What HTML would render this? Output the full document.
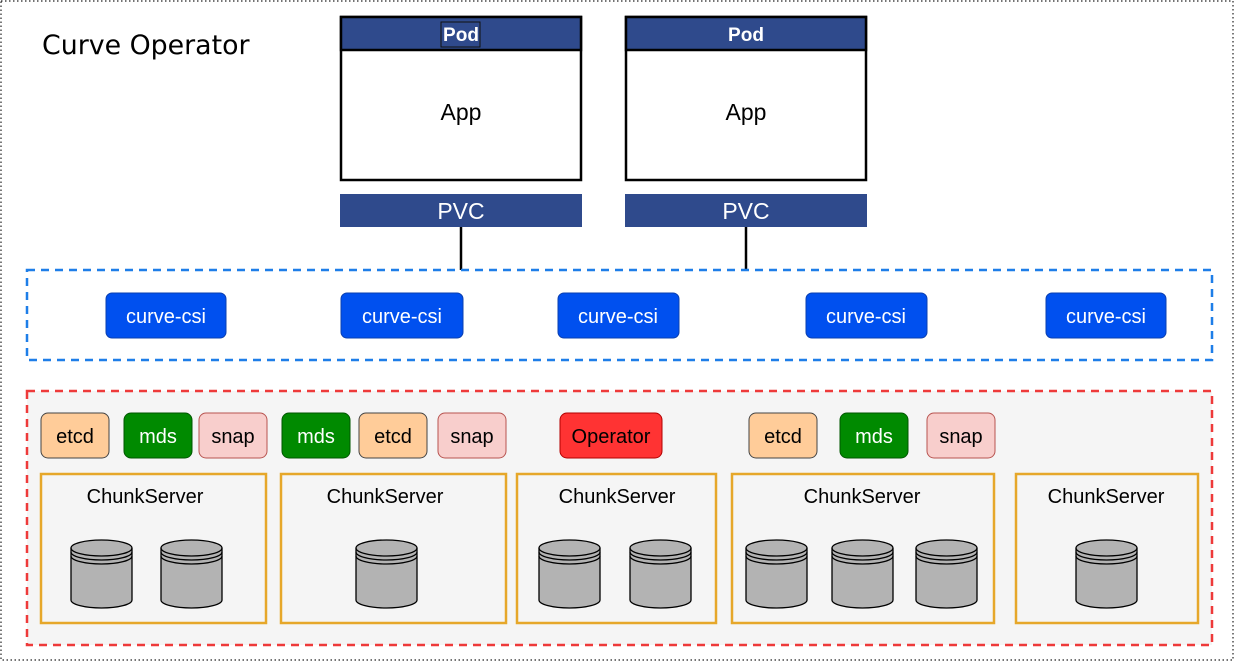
<!DOCTYPE html>
<html><head><meta charset="utf-8"><style>
html,body{margin:0;padding:0;background:#fff;}
svg{display:block;font-family:"Liberation Sans",Helvetica,Arial,sans-serif;}
</style></head><body>
<svg width="1235" height="662" viewBox="0 0 1235 662" xmlns="http://www.w3.org/2000/svg">
<defs>
<g id="cyl">
<path d="M0,8 A30.5,8 0 0 1 61,8 L61,60 A30.5,8 0 0 1 0,60 Z" fill="#b3b3b3" stroke="#000" stroke-width="1.3"/>
<path d="M0,8 A30.5,8 0 0 0 61,8 M0,12 A30.5,8 0 0 0 61,12 M0,16 A30.5,8 0 0 0 61,16" fill="none" stroke="#000" stroke-width="1.3"/>
</g>
</defs>
<rect x="1" y="1" width="1232" height="659" fill="#fff" stroke="#222" stroke-width="1.2" stroke-dasharray="1.5,2.5"/>
<text x="42" y="54" font-size="26.8" fill="#000" font-family="DejaVu Sans, sans-serif">Curve Operator</text>

<g>
<rect x="341" y="17" width="240" height="163" fill="#fff" stroke="#000" stroke-width="2.5"/>
<rect x="341" y="17" width="240" height="33" fill="#2f4a8c" stroke="#000" stroke-width="2.5"/>
<rect x="441" y="22" width="39" height="25" fill="#2f4a8c" stroke="#111" stroke-width="1"/>
<text x="461" y="41" font-size="19" font-weight="bold" fill="#fff" text-anchor="middle">Pod</text>
<text x="461" y="120" font-size="23" text-anchor="middle">App</text>
<rect x="340" y="194" width="242" height="33" fill="#2f4a8c"/>
<text x="461" y="219" font-size="23" fill="#fff" text-anchor="middle">PVC</text>
<line x1="461" y1="227" x2="461" y2="270" stroke="#000" stroke-width="2.5"/>
</g>
<g>
<rect x="626" y="17" width="240" height="163" fill="#fff" stroke="#000" stroke-width="2.5"/>
<rect x="626" y="17" width="240" height="33" fill="#2f4a8c" stroke="#000" stroke-width="2.5"/>
<text x="746" y="41" font-size="19" font-weight="bold" fill="#fff" text-anchor="middle">Pod</text>
<text x="746" y="120" font-size="23" text-anchor="middle">App</text>
<rect x="625" y="194" width="242" height="33" fill="#2f4a8c"/>
<text x="746" y="219" font-size="23" fill="#fff" text-anchor="middle">PVC</text>
<line x1="746" y1="227" x2="746" y2="270" stroke="#000" stroke-width="2.5"/>
</g>

<rect x="27" y="270" width="1185" height="90" fill="#fff" stroke="#1e7ee8" stroke-width="2.5" stroke-dasharray="8,6"/>
<g font-size="20" fill="#fff" text-anchor="middle">
<rect x="106" y="293" width="120" height="45" rx="6" fill="#0050ef" stroke="#0a3fb0"/><text x="166" y="323">curve-csi</text>
<rect x="341" y="293" width="122" height="45" rx="6" fill="#0050ef" stroke="#0a3fb0"/><text x="402" y="323">curve-csi</text>
<rect x="558" y="293" width="121" height="45" rx="6" fill="#0050ef" stroke="#0a3fb0"/><text x="618" y="323">curve-csi</text>
<rect x="806" y="293" width="121" height="45" rx="6" fill="#0050ef" stroke="#0a3fb0"/><text x="866" y="323">curve-csi</text>
<rect x="1046" y="293" width="120" height="45" rx="6" fill="#0050ef" stroke="#0a3fb0"/><text x="1106" y="323">curve-csi</text>
</g>

<rect x="27" y="391" width="1185" height="254" fill="#f5f5f5" stroke="#ee3a3a" stroke-width="2.5" stroke-dasharray="8,6"/>
<g font-size="20" text-anchor="middle">
<rect x="41" y="413" width="68" height="45" rx="7" fill="#ffcc99" stroke="#444"/><text x="75" y="443">etcd</text>
<rect x="124" y="413" width="68" height="45" rx="7" fill="#008a00" stroke="#005700"/><text x="158" y="443" fill="#fff">mds</text>
<rect x="199" y="413" width="68" height="45" rx="7" fill="#f8cecc" stroke="#b85450"/><text x="233" y="443">snap</text>
<rect x="282" y="413" width="68" height="45" rx="7" fill="#008a00" stroke="#005700"/><text x="316" y="443" fill="#fff">mds</text>
<rect x="359" y="413" width="68" height="45" rx="7" fill="#ffcc99" stroke="#444"/><text x="393" y="443">etcd</text>
<rect x="438" y="413" width="68" height="45" rx="7" fill="#f8cecc" stroke="#b85450"/><text x="472" y="443">snap</text>
<rect x="560" y="413" width="102" height="45" rx="7" fill="#ff3333" stroke="#b20000"/><text x="611" y="443">Operator</text>
<rect x="749" y="413" width="68" height="45" rx="7" fill="#ffcc99" stroke="#444"/><text x="783" y="443">etcd</text>
<rect x="840" y="413" width="68" height="45" rx="7" fill="#008a00" stroke="#005700"/><text x="874" y="443" fill="#fff">mds</text>
<rect x="927" y="413" width="68" height="45" rx="7" fill="#f8cecc" stroke="#b85450"/><text x="961" y="443">snap</text>
</g>
<g fill="#f5f5f5" stroke="#e6a72a" stroke-width="2.5">
<rect x="41" y="474" width="225" height="149"/>
<rect x="281" y="474" width="225" height="149"/>
<rect x="517" y="474" width="199" height="149"/>
<rect x="732" y="474" width="262" height="149"/>
<rect x="1016" y="474" width="182" height="149"/>
</g>
<g font-size="20" text-anchor="middle">
<text x="145" y="503">ChunkServer</text>
<text x="385" y="503">ChunkServer</text>
<text x="617" y="503">ChunkServer</text>
<text x="862" y="503">ChunkServer</text>
<text x="1106" y="503">ChunkServer</text>
</g>
<use href="#cyl" x="71" y="540"/>
<use href="#cyl" x="161" y="540"/>
<use href="#cyl" x="356" y="540"/>
<use href="#cyl" x="539" y="540"/>
<use href="#cyl" x="630" y="540"/>
<use href="#cyl" x="746" y="540"/>
<use href="#cyl" x="832" y="540"/>
<use href="#cyl" x="916" y="540"/>
<use href="#cyl" x="1076" y="540"/>
</svg>
</body></html>
